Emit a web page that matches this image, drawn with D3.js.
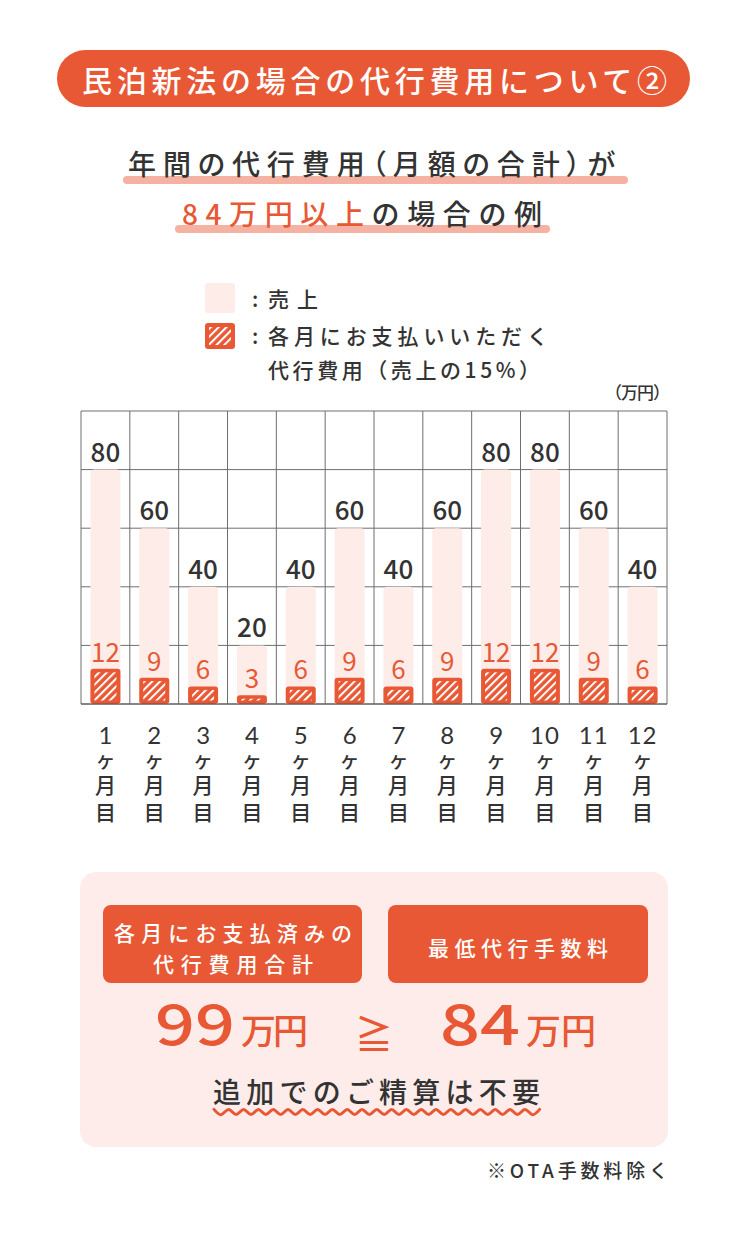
<!DOCTYPE html>
<html><head><meta charset="utf-8">
<script src="https://cdn.jsdelivr.net/npm/d3@7"></script>
<style>
html,body{margin:0;padding:0;background:#fff;}
svg{display:block;font-family:"Noto Sans CJK JP","Noto Sans",sans-serif;}
.xlab{font-family:"Liberation Sans","Noto Sans CJK JP",sans-serif;}
.xnum{font-family:Lato,"Liberation Sans",sans-serif;}
.palt{font-feature-settings:"palt" 1;}
</style></head>
<body>
<svg id="c" width="750" height="1235"></svg>
<script>
// ---- data ----
const months = ["1","2","3","4","5","6","7","8","9","10","11","12"];
const sales  = [80,60,40,20,40,60,40,60,80,80,60,40];
const fees   = [12,9,6,3,6,9,6,9,12,12,9,6];
const yTicks = [0,20,40,60,80,100];
const monthSuffix = ["ヶ","月","目"];
const titleText = "民泊新法の場合の代行費用について②";
const sub1 = "年間の代行費用（月額の合計）が";
const sub2a = "84万円以上";
const sub2b = "の場合の例";
const legendSales = "売上";
const legendFee1 = "各月にお支払いいただく";
const legendFee2 = "代行費用（売上の15%）";
const unitLabel = "（万円）";
const boxLeft = ["各月にお支払済みの","代行費用合計"];
const boxRight = "最低代行手数料";
const totalPaid = "99";
const minFee = "84";
const unitMan = "万円";
const noteText = "追加でのご精算は不要";
const footText = "※OTA手数料除く";

const ORANGE = "#e85834", PINK = "#fdece8", DARK = "#333333", HL = "#f5b2a3", GRID = "#6e6e6e";

const svg = d3.select("#c");
const defs = svg.append("defs");
const pat = defs.append("pattern").attr("id","hatch").attr("patternUnits","userSpaceOnUse")
  .attr("width",5.5).attr("height",5.5).attr("patternTransform","rotate(45)");
pat.append("rect").attr("width",5.5).attr("height",5.5).attr("fill",ORANGE);
pat.append("rect").attr("x",0).attr("width",2).attr("height",5.5).attr("fill","#fff");

// ---- title pill ----
svg.append("rect").attr("x",57).attr("y",50).attr("width",633).attr("height",57).attr("rx",28.5).attr("fill",ORANGE);
svg.append("text").attr("x",82).attr("y",92).attr("font-size",30).attr("font-weight",500).attr("fill","#fff")
  .attr("textLength",585).attr("lengthAdjust","spacing").text(titleText);

// ---- subtitle ----
svg.append("rect").attr("x",123).attr("y",176).attr("width",505).attr("height",8).attr("rx",4).attr("fill",HL);
svg.append("rect").attr("x",175).attr("y",225).attr("width",375).attr("height",8).attr("rx",4).attr("fill",HL);
svg.append("text").attr("class","palt").attr("x",128).attr("y",175).attr("font-size",28).attr("font-weight",500).attr("fill",DARK)
  .attr("textLength",487).attr("lengthAdjust","spacing").text(sub1);
const t2 = svg.append("text").attr("x",182).attr("y",225).attr("font-size",28).attr("font-weight",500)
  .attr("textLength",360).attr("lengthAdjust","spacing");
t2.append("tspan").attr("fill",ORANGE).text(sub2a);
t2.append("tspan").attr("fill",DARK).text(sub2b);

// ---- legend ----
svg.append("rect").attr("x",205).attr("y",283).attr("width",30).attr("height",30).attr("rx",3).attr("fill",PINK);
svg.append("rect").attr("x",205).attr("y",323).attr("width",30).attr("height",26).attr("rx",3).attr("fill",ORANGE);
svg.append("rect").attr("x",209).attr("y",327).attr("width",22).attr("height",18).attr("fill","url(#hatch)");
const lg = svg.append("g").attr("font-size",21).attr("font-weight",500).attr("fill",DARK);
lg.append("text").attr("x",252).attr("y",307).text(":");
lg.append("text").attr("x",252).attr("y",344).text(":");
lg.append("text").attr("x",268).attr("y",307).attr("textLength",50).attr("lengthAdjust","spacing").text(legendSales);
lg.append("text").attr("x",268).attr("y",344).attr("textLength",280).attr("lengthAdjust","spacing").text(legendFee1);
lg.append("text").attr("x",268).attr("y",378).attr("textLength",272).attr("lengthAdjust","spacing").text(legendFee2);
svg.append("text").attr("x",605).attr("y",399).attr("font-size",17).attr("font-weight",500)
  .attr("fill",DARK).attr("textLength",65).attr("lengthAdjust","spacing").text(unitLabel);

// ---- chart ----
const x = d3.scaleBand().domain(months).range([81,667]).padding(0);
const y = d3.scaleLinear().domain([0,100]).range([704,411]);
const bw = 30;
const bx = m => x(m) + (x.bandwidth()-bw)/2;
const g = svg.append("g");

// grid
g.selectAll(".hg").data(yTicks).join("line").attr("x1",81).attr("x2",667)
  .attr("y1",d=>y(d)).attr("y2",d=>y(d)).attr("stroke",GRID).attr("stroke-width",1);
const vlines = months.map(m=>x(m)).concat([x.range()[1]]);
g.selectAll(".vg").data(vlines).join("line").attr("x1",d=>d).attr("x2",d=>d)
  .attr("y1",y(100)).attr("y2",y(0)).attr("stroke",GRID).attr("stroke-width",1);

// sales bars (rounded top)
const r = 4;
g.selectAll(".sb").data(months).join("path").attr("fill",PINK)
  .attr("d",(m,i)=>{
    const x0 = bx(m), x1 = x0+bw, y0 = y(sales[i]), yb = y(0);
    return `M${x0},${yb}V${y0+r}Q${x0},${y0} ${x0+r},${y0}H${x1-r}Q${x1},${y0} ${x1},${y0+r}V${yb}Z`;
  });

// fee bars
g.selectAll(".fo").data(months).join("rect").attr("x",m=>bx(m)).attr("y",(m,i)=>y(fees[i]))
  .attr("width",bw).attr("height",(m,i)=>y(0)-y(fees[i])).attr("rx",3).attr("fill",ORANGE);
g.selectAll(".fi").data(months).join("rect").attr("x",m=>bx(m)+4).attr("y",(m,i)=>y(fees[i])+3.5)
  .attr("width",bw-8).attr("height",(m,i)=>Math.max(0,y(0)-y(fees[i])-7)).attr("fill","url(#hatch)");

// baseline
g.append("line").attr("x1",81).attr("x2",667).attr("y1",y(0)).attr("y2",y(0)).attr("stroke","#555").attr("stroke-width",1.2);

// labels
g.selectAll(".sl").data(months).join("text").attr("x",m=>x(m)+x.bandwidth()/2).attr("y",(m,i)=>y(sales[i])-8)
  .attr("text-anchor","middle").attr("font-size",26).attr("font-weight",500).attr("fill",DARK).text((m,i)=>sales[i]);
g.selectAll(".fl").data(months).join("text").attr("x",m=>x(m)+x.bandwidth()/2).attr("y",(m,i)=>y(fees[i])-7)
  .attr("text-anchor","middle").attr("font-size",26).attr("font-weight",400).attr("fill",ORANGE).text((m,i)=>fees[i]);

// x axis labels (vertical stack)
const xg = g.selectAll(".xg").data(months).join("g")
  .attr("transform",m=>`translate(${x(m)+x.bandwidth()/2},0)`)
  .attr("fill",DARK).attr("text-anchor","middle");
xg.append("text").attr("class","xnum").attr("y",744).attr("font-size",24).attr("font-weight",400)
  .attr("letter-spacing",m=>m.length>1?1:0).text(m=>m);
xg.append("text").attr("class","xlab").attr("y",768).attr("font-size",20).attr("font-weight",500).text(monthSuffix[0]);
xg.append("text").attr("class","xlab").attr("y",793).attr("font-size",21).attr("font-weight",500).text(monthSuffix[1]);
xg.append("text").attr("class","xlab").attr("y",820).attr("font-size",21).attr("font-weight",500).text(monthSuffix[2]);

// ---- bottom box ----
svg.append("rect").attr("x",80).attr("y",872).attr("width",588).attr("height",275).attr("rx",16).attr("fill","#fdece9");
svg.append("rect").attr("x",103).attr("y",905).attr("width",259).attr("height",78).attr("rx",8).attr("fill",ORANGE);
svg.append("rect").attr("x",388).attr("y",905).attr("width",260).attr("height",78).attr("rx",8).attr("fill",ORANGE);
const bt = svg.append("g").attr("fill","#fff").attr("font-size",21).attr("font-weight",500).attr("text-anchor","middle");
bt.append("text").attr("x",233).attr("y",941).attr("textLength",238).attr("lengthAdjust","spacing").text(boxLeft[0]);
bt.append("text").attr("x",233).attr("y",972).attr("textLength",160).attr("lengthAdjust","spacing").text(boxLeft[1]);
bt.append("text").attr("x",518).attr("y",956).attr("textLength",180).attr("lengthAdjust","spacing").text(boxRight);

const big = svg.append("g").attr("fill",ORANGE).attr("font-weight",500);
big.append("text").attr("x",155).attr("y",1045).attr("font-size",56).attr("textLength",80).attr("lengthAdjust","spacingAndGlyphs").text(totalPaid);
big.append("text").attr("x",241).attr("y",1044).attr("font-size",35).attr("textLength",67).attr("lengthAdjust","spacing").text(unitMan);
big.append("text").attr("x",374).attr("y",1048).attr("text-anchor","middle").attr("font-size",38).text("≧");
big.append("text").attr("x",440).attr("y",1045).attr("font-size",56).attr("textLength",80).attr("lengthAdjust","spacingAndGlyphs").text(minFee);
big.append("text").attr("x",526).attr("y",1044).attr("font-size",35).attr("textLength",70).attr("lengthAdjust","spacing").text(unitMan);

svg.append("text").attr("x",213).attr("y",1103).attr("font-size",28).attr("font-weight",500).attr("fill",DARK)
  .attr("textLength",327).attr("lengthAdjust","spacing").text(noteText);
// wavy underline (decorative)
const wave = [];
const half = 7.4;
for (let k = 0; 214 + k*half <= 541; k++) wave.push([214 + k*half, 1112 + (k%2 ? 2.6 : -2.6)]);
svg.append("path").attr("d",d3.line().curve(d3.curveNatural)(wave)).attr("fill","none").attr("stroke",ORANGE)
  .attr("stroke-width",3).attr("stroke-linecap","round");

svg.append("text").attr("x",668).attr("y",1178).attr("text-anchor","end").attr("font-size",19).attr("font-weight",500)
  .attr("fill",DARK).attr("textLength",181).attr("lengthAdjust","spacing").text(footText);
</script>
</body></html>
